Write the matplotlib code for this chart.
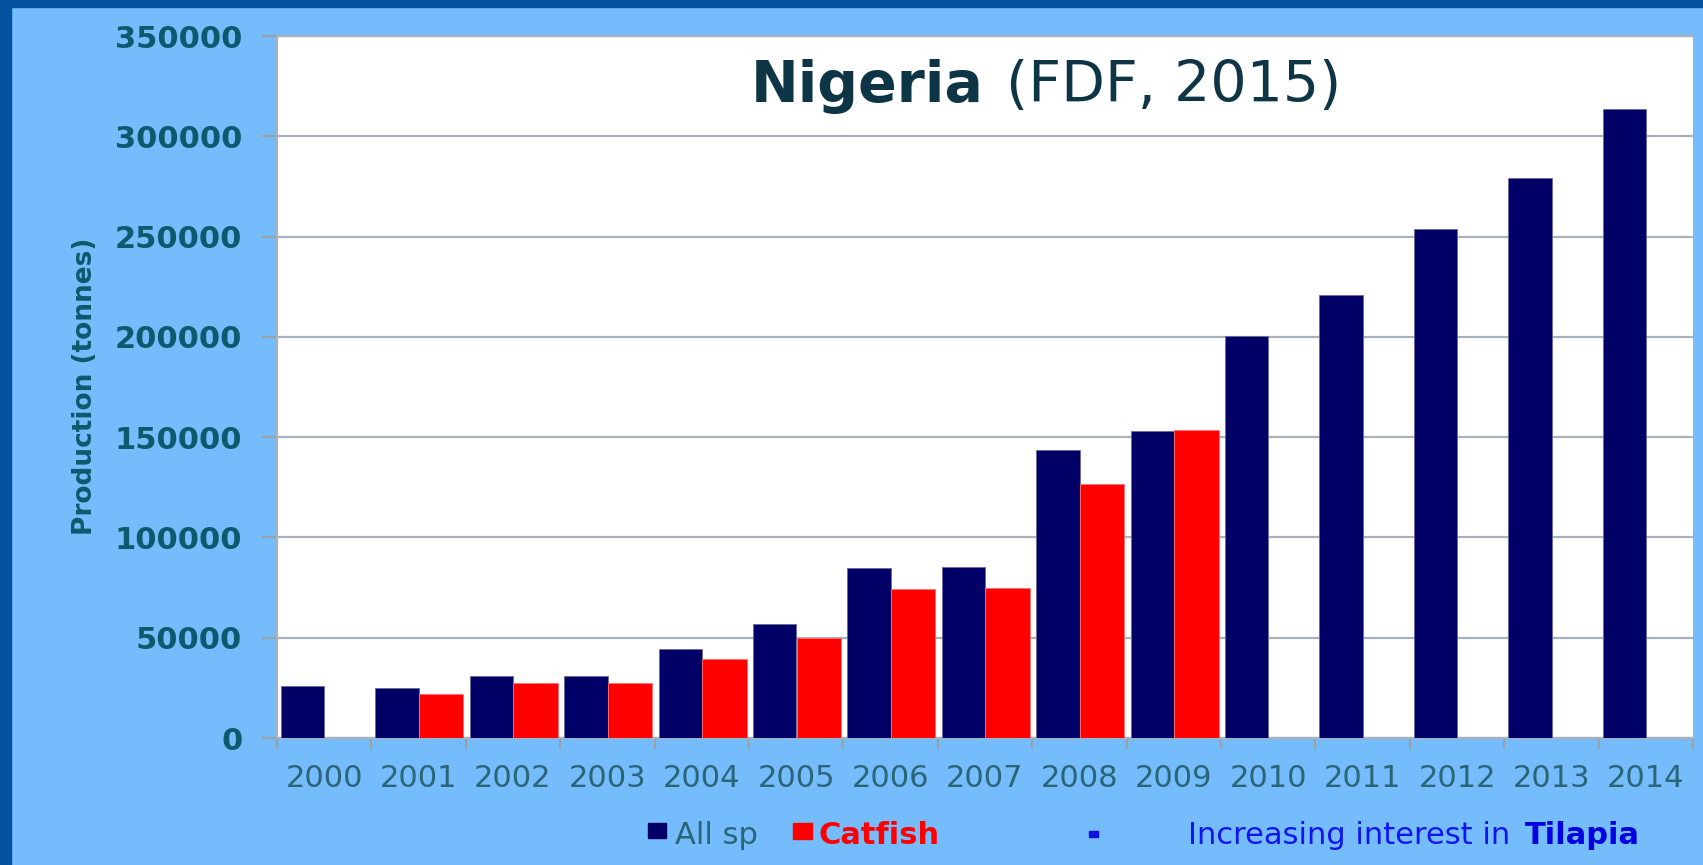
import numpy as np
import matplotlib
matplotlib.use("Agg")
import matplotlib.pyplot as plt
from matplotlib.patches import Rectangle

# data
years = [str(y) for y in range(2000, 2015)]
all_sp = [26000, 25000, 31000, 31000, 44500, 57000, 85000, 85500, 143500,
          153000, 200500, 221000, 254000, 279000, 313500]
catfish = [np.nan, 22000, 27500, 27500, 39500, 50000, 74500, 75000, 126500,
           153500, np.nan, np.nan, np.nan, np.nan, np.nan]
yticks = [0, 50000, 100000, 150000, 200000, 250000, 300000, 350000]

W, H = 1703, 865
bg = "#74bcfc"
border = "#0452a0"
navy = "#000066"
red = "#ff0000"
grid_c = "#a9b1ba"
teal = "#0d5a6e"
teal_light = "#2a6578"

fig = plt.figure(figsize=(W / 100, H / 100), dpi=100, facecolor=bg)

# dark frame on the left and top edge
fig.patches.append(Rectangle((0, 0), 11 / W, 1, transform=fig.transFigure,
                             color=border, zorder=0))
fig.patches.append(Rectangle((0, 1 - 7 / H), 1, 7 / H, transform=fig.transFigure,
                             color=border, zorder=0))

ax = fig.add_axes([277 / W, 1 - 738 / H, (1693 - 277) / W, (738 - 36) / H])
ax.set_facecolor("white")

x = np.arange(len(years))
ax.bar(x - 0.228, all_sp, width=0.46, color=navy, edgecolor="#6a6a9a",
       linewidth=0.6, zorder=3)
ax.bar(x + 0.24, catfish, width=0.47, color=red, edgecolor="#ff7070",
       linewidth=0.6, zorder=3)

ax.set_xlim(-0.5, len(years) - 0.5)
ax.set_ylim(0, 350000)
ax.set_yticks(yticks)
ax.set_yticklabels([str(v) for v in yticks], fontsize=22, fontweight="bold",
                   color=teal)
ax.yaxis.grid(True, color=grid_c, linewidth=1.6, zorder=0)
ax.tick_params(axis="y", length=11, width=1.5, color="#9aa0a6", pad=14)

ax.set_xticks(x)
ax.set_xticklabels(years, fontsize=22, color=teal_light)
ax.set_xticks(np.arange(-0.5, len(years)), minor=True)
ax.tick_params(axis="x", which="major", length=0, pad=19)
ax.tick_params(axis="x", which="minor", length=8, width=1.5, color="#9aa0a6")

for side in ["left", "bottom", "top"]:
    ax.spines[side].set_color(grid_c)
    ax.spines[side].set_linewidth(1.6)
ax.spines["right"].set_visible(False)

fig.text(85 / W, 1 - 386 / H, "Production (tonnes)", rotation=90,
         ha="center", va="center", fontsize=19, fontweight="bold", color=teal)

renderer = fig.canvas.get_renderer()


def chain(x0, yc, pieces):
    # place text pieces one after another, returns end x in pixels
    xp = x0
    for s, gap, kw in pieces:
        xp += gap
        t = fig.text(xp / W, 1 - yc / H, s, ha="left", va="center", **kw)
        xp += t.get_window_extent(renderer).width
    return xp


# title inside the plot area
chain(751, 87, [("Nigeria", 0, dict(fontsize=41, fontweight="bold", color="#0e3546")),
                ("(FDF, 2015)", 22, dict(fontsize=41, color="#0e3546"))])

# legend row at the bottom
def square(x0, y0, w, h, c):
    fig.patches.append(Rectangle((x0 / W, 1 - (y0 + h) / H), w / W, h / H,
                                 transform=fig.transFigure, color=c, zorder=5))


square(648, 823, 18, 15, navy)
chain(675, 836, [("All sp", 0, dict(fontsize=22, color=teal_light))])
square(793, 823, 19, 16, red)
chain(819, 836, [("Catfish", 0, dict(fontsize=22, fontweight="bold", color=red))])
square(1089, 831, 9, 6, "#1010e0")
chain(1188, 836, [("Increasing interest in", 0, dict(fontsize=22, color="#1414f0")),
                  ("Tilapia", 15, dict(fontsize=22, fontweight="bold", color="#0000e0"))])

fig.savefig("out.png", dpi=100, facecolor=bg)
